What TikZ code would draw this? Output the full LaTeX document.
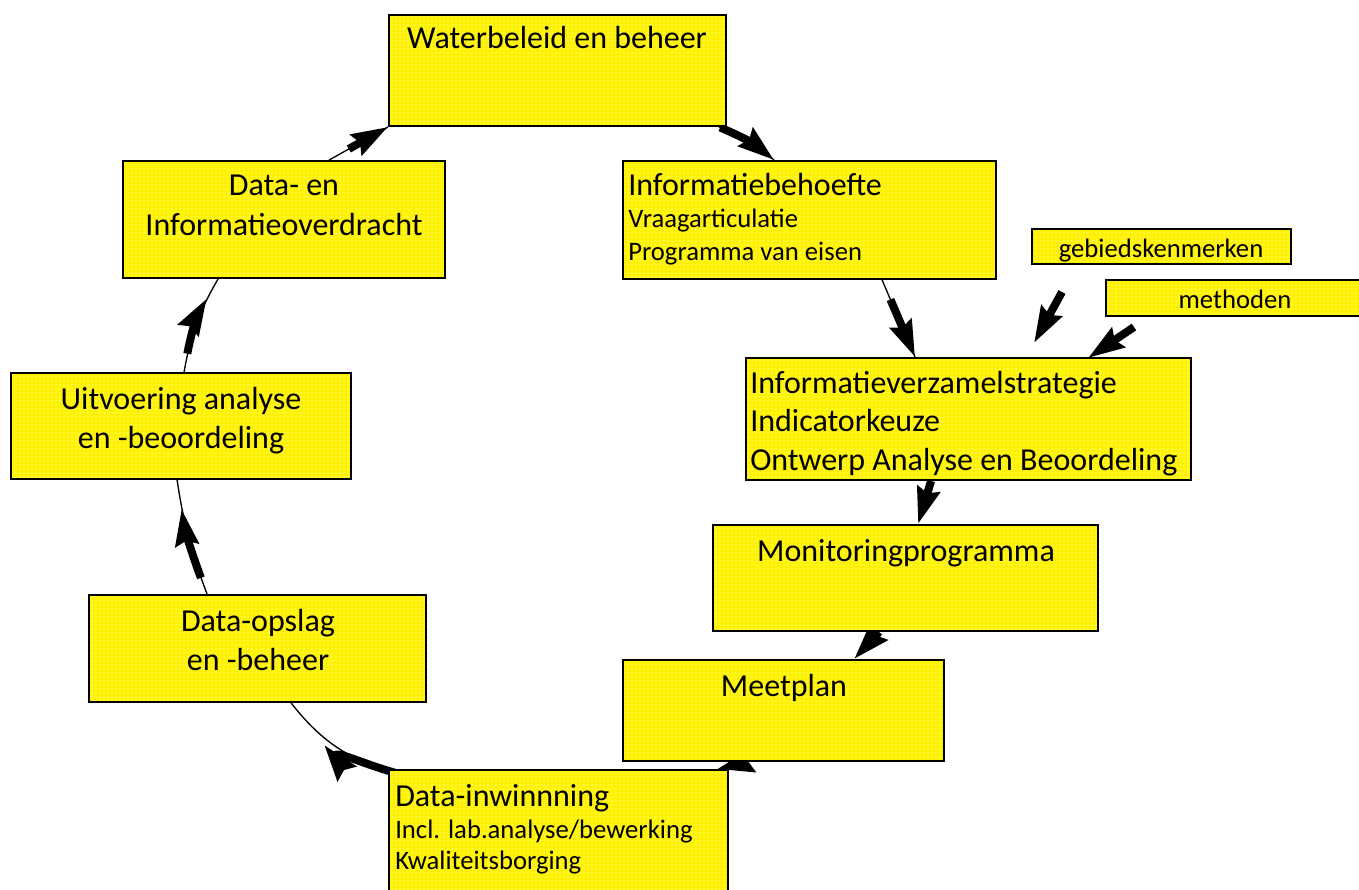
\documentclass[tikz,border=0pt]{standalone}
\usepackage{fontspec}
\setmainfont{Carlito}
\usetikzlibrary{arrows.meta,patterns,calc,backgrounds}
\newcommand\ybox[5]{\node[box,minimum width={(#4-#2)*0.75pt},minimum height={(#5-#3)*0.75pt}] (#1) at ({(#2+#4)/2},{(#3+#5)/2}) {};}
\begin{document}
\begin{tikzpicture}[x=0.75pt,y=-0.75pt,
  box/.style={draw=black,line width=1.4pt,preaction={fill=yellow},pattern=dots,pattern color=white,inner sep=0pt},
  big/.style={font=\fontsize{24}{30}\selectfont,anchor=base,inner sep=0pt},
  small/.style={font=\fontsize{20}{24}\selectfont,anchor=base,inner sep=0pt},
  conn/.style={draw=black,line width=1pt},
  fat/.style={draw=black,line width=6pt,-{Stealth[length=27pt,width=17pt,inset=3pt]}},
]
\useasboundingbox (0,0) rectangle (1359,889);
% boxes
\ybox{wb}{389}{15}{726}{126}
\ybox{dio}{123}{161}{445}{278}
\ybox{ib}{623}{161}{996}{279}
\ybox{gk}{1032}{229}{1291}{264}
\ybox{me}{1106}{280}{1370}{316}
\ybox{ivs}{746}{358}{1191}{480}
\ybox{mp}{713}{525}{1098}{631}
\ybox{mpl}{623}{660}{944}{761}
\ybox{di}{389}{770}{728}{905}
\ybox{dop}{89}{595}{426}{702}
\ybox{uit}{11}{373}{351}{479}
% texts
\node[big] (wbt) at (557,48) {Waterbeleid en beheer};
\node[big] (diot1) at (284,195) {Data- en};
\node[big] (diot2) at (284,235) {Informatieoverdracht};
\node[big,anchor=base west] (ibt1) at (628,195) {Informatiebehoefte};
\node[small,anchor=base west] (ibt2) at (628,227) {Vraagarticulatie};
\node[small,anchor=base west] (ibt3) at (628,260) {Programma van eisen};
\node[small] (gkt) at (1161,257) {gebiedskenmerken};
\node[small] (met) at (1235,308) {methoden};
\node[big,anchor=base west] (ivst1) at (750,393) {Informatieverzamelstrategie};
\node[big,anchor=base west] (ivst2) at (750,431) {Indicatorkeuze};
\node[big,anchor=base west] (ivst3) at (750,470) {Ontwerp Analyse en Beoordeling};
\node[big] (mpt) at (906,561) {Monitoringprogramma};
\node[big] (mplt) at (784,696) {Meetplan};
\node[big,anchor=base west] (dit1) at (395,806) {Data-inwinnning};
\node[small,anchor=base west] (dit2) at (395,838) {Incl. lab.analyse/bewerking};
\node[small,anchor=base west] (dit3) at (395,869) {Kwaliteitsborging};
\node[big] (dopt1) at (258,631) {Data-opslag};
\node[big] (dopt2) at (258,670) {en -beheer};
\node[big] (uitt1) at (181,409) {Uitvoering analyse};
\node[big] (uitt2) at (181,448) {en -beoordeling};
% free arrow coordinates
\coordinate (g1) at (1062,292);
\coordinate (g2) at (1034,343);
\coordinate (m1) at (1134,327);
\coordinate (m2) at (1088,358);
\begin{scope}[on background layer]
  % A1
  \draw[conn] ($(wb.south east)+(-8,0)$) to[bend left=8] ($(ib.north west)+(152,0)$);
  \draw[fat,shorten <=1pt] ($(wb.south east)+(-8,0)$) to[bend left=8] ($(ib.north west)+(152,0)$);
  % A2
  \draw[conn] ($(ib.south west)+(260,0)$) -- ($(ivs.north west)+(170,0)$);
  \draw[fat,shorten <=16pt] ($(ib.south west)+(260,0)$) -- ($(ivs.north west)+(170,0)$);
  % A5
  \draw[fat] ($(ivs.south west)+(186,0)$) -- ($(mp.north west)+(206,0)$);
  % A6
  \draw[fat] ($(mp.south west)+(167,0)$) -- ($(mpl.north west)+(232,0)$);
  % A7
  \draw[fat] ($(mpl.south west)+(125,0)$) -- ($(di.north west)+(329,0)$);
  % A8
  \draw[conn] ($(di.north west)+(8,4)$) to[bend left=18] ($(dop.south west)+(203,0)$);
  \draw[fat,shorten >=40pt] ($(di.north west)+(8,4)$) to[bend left=18] ($(dop.south west)+(203,0)$);
  % A9
  \draw[conn] ($(dop.north west)+(119,0)$) to[bend left=6] ($(uit.south west)+(167,0)$);
  \draw[fat,shorten <=13pt,shorten >=22pt] ($(dop.north west)+(119,0)$) to[bend left=6] ($(uit.south west)+(167,0)$);
  % A10
  \draw[conn] ($(uit.north west)+(174,0)$) to[bend left=10] ($(dio.south west)+(96,0)$);
  \draw[fat,shorten <=14pt,shorten >=17pt] ($(uit.north west)+(174,0)$) to[bend left=10] ($(dio.south west)+(96,0)$);
  % A11
  \draw[conn] ($(dio.north west)+(207,0)$) -- (wb.south west);
  \draw[fat,shorten <=17pt] ($(dio.north west)+(207,0)$) -- (wb.south west);
\end{scope}
% free arrows
\draw[fat] (g1) -- (g2);
\draw[fat] (m1) -- (m2);
\end{tikzpicture}
\end{document}
